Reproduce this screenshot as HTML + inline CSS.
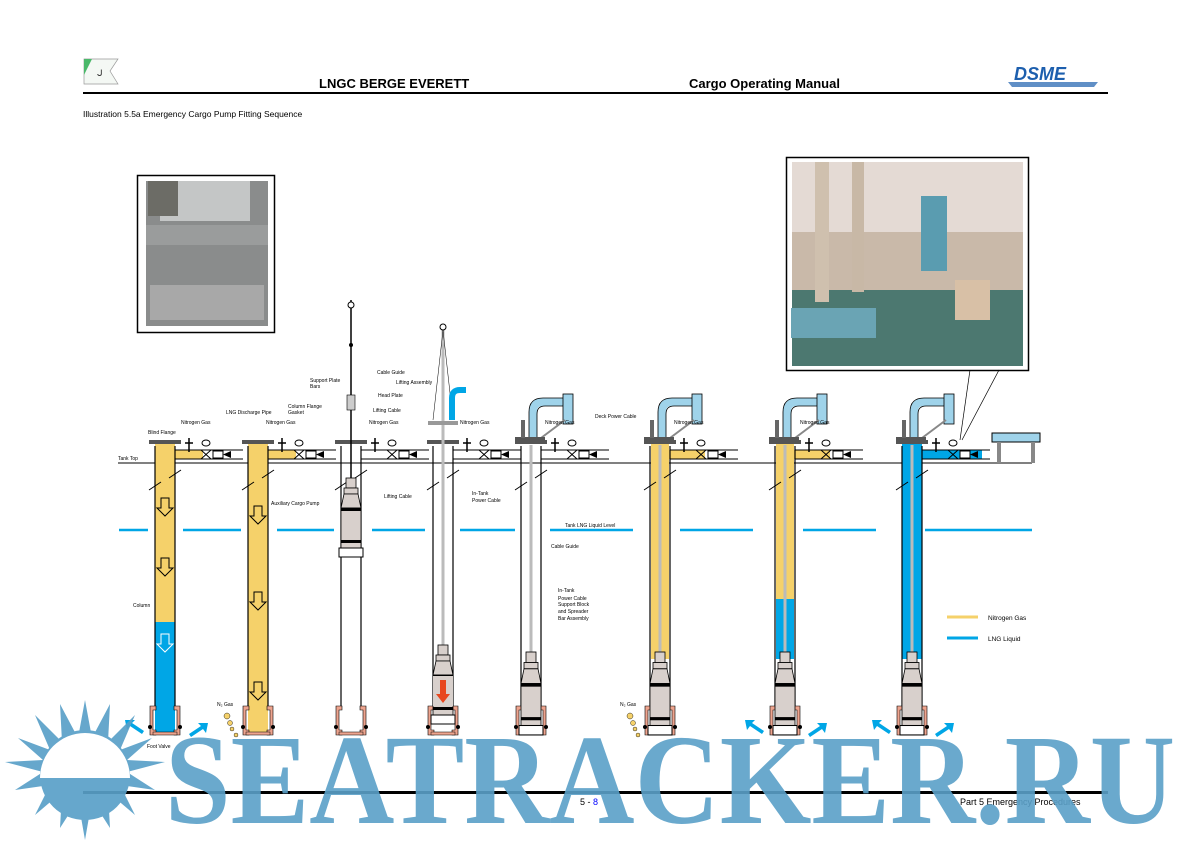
<!DOCTYPE html>
<html><head><meta charset="utf-8"><style>
html,body{margin:0;padding:0;background:#fff;}
svg{display:block;font-family:"Liberation Sans",sans-serif;}
.s{font-size:5px;fill:#000;}
</style></head><body>
<svg width="1191" height="866" viewBox="0 0 1191 866" xmlns="http://www.w3.org/2000/svg">
<defs>
<g id="base">
  <line x1="-10" y1="446" x2="-10" y2="708" stroke="#000" stroke-width="1.2"/>
  <line x1="10" y1="446" x2="10" y2="708" stroke="#000" stroke-width="1.2"/>
  <rect x="-16" y="440" width="32" height="4" fill="#555"/>
  <line x1="10" y1="450" x2="78" y2="450" stroke="#000"/>
  <line x1="10" y1="459" x2="78" y2="459" stroke="#000"/>
  <line x1="24" y1="438" x2="24" y2="452" stroke="#000" stroke-width="1.5"/>
  <line x1="20" y1="443" x2="28" y2="443" stroke="#000" stroke-width="1.5"/>
  <path d="M36 450 L46 459 M46 450 L36 459" stroke="#000"/>
  <ellipse cx="41" cy="443" rx="4" ry="3" fill="#fff" stroke="#000"/>
  <rect x="48" y="451" width="10" height="7" fill="#fff" stroke="#000"/>
  <path d="M58 454.5 L66 451 L66 458 Z" fill="#000"/>
  <path d="M-16 490 L-4 482 M4 478 L16 470" stroke="#000"/>
  <path d="M-15 706 h6 v4 h-3 v20 h3 v5 h-6 z M15 706 h-6 v4 h3 v20 h-3 v5 h6 z" fill="#eea48e" stroke="#000" stroke-width="0.6"/>
  <rect x="-12" y="732" width="24" height="3" fill="#eea48e" stroke="#000" stroke-width="0.5"/>
  <circle cx="-15" cy="727" r="2" fill="#000"/><circle cx="15" cy="727" r="2" fill="#000"/>
</g>
<g id="pump">
  <rect x="-5" y="0" width="10" height="10" fill="#d8d0cc" stroke="#000" stroke-width="0.8"/>
  <rect x="-7" y="10" width="14" height="6" fill="#d8d0cc" stroke="#000" stroke-width="0.8"/>
  <path d="M-7 16 L-10 30 L10 30 L7 16 Z" fill="#d8d0cc" stroke="#000" stroke-width="0.8"/>
  <rect x="-10" y="30" width="20" height="40" fill="#d8d0cc" stroke="#000" stroke-width="0.8"/>
  <rect x="-10" y="30" width="20" height="3" fill="#000"/>
  <rect x="-10" y="62" width="20" height="3" fill="#000"/>
  <rect x="-12" y="70" width="24" height="9" fill="#fff" stroke="#000"/>
</g>
<g id="head">
  <path d="M-4 0 V-28 Q-4 -38 6 -38 H26" fill="none" stroke="#9fd3ea" stroke-width="8"/>
  <path d="M-8 0 V-28 Q-8 -42 6 -42 H26 M0 0 V-26 Q0 -34 8 -34 H26" fill="none" stroke="#000" stroke-width="0.8"/>
  <rect x="26" y="-46" width="10" height="30" fill="#9fd3ea" stroke="#000" stroke-width="0.8"/>
  <path d="M4 -2 L28 -20" stroke="#888" stroke-width="2"/>
  <rect x="-22" y="-3" width="30" height="4" fill="#555"/>
  <rect x="-16" y="-20" width="4" height="18" fill="#666"/>
</g>
</defs>

<!-- header -->
<path d="M84 59 L84 84 L118 84 L110 71 L118 59 Z" fill="#f4f8f4" stroke="#999" stroke-width="0.7"/>
<path d="M84 59 L92 59 L84 75 Z" fill="#4bb86a"/>
<text x="97" y="76" font-size="9" fill="#333">ᒍ</text>
<text x="319" y="88" font-size="13" font-weight="bold">LNGC BERGE EVERETT</text>
<text x="689" y="88" font-size="13" font-weight="bold">Cargo Operating Manual</text>
<text x="1014" y="80" font-size="18" font-weight="bold" font-style="italic" fill="#1d5fae">DSME</text>
<path d="M1008 82 L1098 82 L1094 87 L1012 87 Z" fill="#1d5fae" opacity="0.7"/>
<rect x="83" y="92" width="1025" height="2" fill="#000"/>
<text x="83" y="117" font-size="8.5">Illustration 5.5a Emergency Cargo Pump Fitting Sequence</text>

<!-- left photo -->
<rect x="137.5" y="175.5" width="137" height="157" fill="#fff" stroke="#000" stroke-width="1.5"/>
<rect x="146" y="181" width="122" height="145" fill="#8a8c8c"/>
<rect x="160" y="181" width="90" height="40" fill="#c4c6c6"/>
<rect x="146" y="225" width="122" height="20" fill="#9a9c9c"/>
<rect x="150" y="285" width="114" height="35" fill="#a8a8a8"/>
<rect x="148" y="181" width="30" height="35" fill="#6c6c66"/>

<!-- right photo -->
<rect x="786.5" y="157.5" width="242" height="213" fill="#fff" stroke="#000" stroke-width="1.5"/>
<rect x="792" y="162" width="231" height="204" fill="#c9b9a9"/>
<rect x="792" y="162" width="231" height="70" fill="#e4dad4"/>
<rect x="792" y="290" width="231" height="76" fill="#4c7870"/>
<rect x="815" y="162" width="14" height="140" fill="#cfc0ae"/>
<rect x="852" y="162" width="12" height="130" fill="#c8b8a6"/>
<rect x="921" y="196" width="26" height="75" fill="#5a9cb0"/>
<rect x="791" y="308" width="85" height="30" fill="#6aa4b4"/>
<rect x="955" y="280" width="35" height="40" fill="#d8c0a6"/>
<line x1="970" y1="370" x2="960" y2="440" stroke="#000" stroke-width="0.7"/>
<line x1="999" y1="370" x2="962" y2="440" stroke="#000" stroke-width="0.7"/>

<!-- tank top and liquid level -->
<line x1="118" y1="463" x2="1032" y2="463" stroke="#000"/>
<text x="118" y="460" class="s">Tank Top</text>
<g stroke="#00a6e6" stroke-width="2.5">
<line x1="119" y1="530" x2="148" y2="530"/><line x1="183" y1="530" x2="241" y2="530"/>
<line x1="277" y1="530" x2="334" y2="530"/><line x1="372" y1="530" x2="425" y2="530"/>
<line x1="460" y1="530" x2="515" y2="530"/><line x1="550" y1="530" x2="633" y2="530"/>
<line x1="680" y1="530" x2="753" y2="530"/><line x1="803" y1="530" x2="876" y2="530"/>
<line x1="925" y1="530" x2="1032" y2="530"/>
</g>
<text x="565" y="527" class="s">Tank LNG Liquid Level</text>

<!-- fills -->
<rect x="155" y="444" width="20" height="178" fill="#f5d16a"/>
<rect x="175" y="450" width="28" height="9" fill="#f5d16a"/>
<rect x="155" y="622" width="20" height="112" fill="#00a6e6"/>
<rect x="248" y="444" width="20" height="290" fill="#f5d16a"/>
<rect x="268" y="450" width="28" height="9" fill="#f5d16a"/>
<rect x="651" y="444" width="18" height="215" fill="#f5d16a"/>
<rect x="669" y="450" width="36" height="9" fill="#f5d16a"/>
<rect x="776" y="444" width="18" height="155" fill="#f5d16a"/>
<rect x="776" y="599" width="18" height="60" fill="#00a6e6"/>
<rect x="794" y="450" width="36" height="9" fill="#f5d16a"/>
<rect x="902" y="444" width="20" height="215" fill="#00a6e6"/>
<rect x="922" y="450" width="60" height="9" fill="#00a6e6"/>

<use href="#base" transform="translate(165,0)"/>
<use href="#base" transform="translate(258,0)"/>
<use href="#base" transform="translate(351,0)"/>
<use href="#base" transform="translate(443,0)"/>
<use href="#base" transform="translate(531,0)"/>
<use href="#base" transform="translate(660,0)"/>
<use href="#base" transform="translate(785,0)"/>
<use href="#base" transform="translate(912,0)"/>

<!-- down arrows -->
<g fill="none" stroke="#000" stroke-width="1">
<path d="M161 498 h8 v10 h4 l-8 8 l-8 -8 h4 z"/><path d="M161 558 h8 v10 h4 l-8 8 l-8 -8 h4 z"/>
<path d="M254 506 h8 v10 h4 l-8 8 l-8 -8 h4 z"/><path d="M254 592 h8 v10 h4 l-8 8 l-8 -8 h4 z"/>
<path d="M254 682 h8 v10 h4 l-8 8 l-8 -8 h4 z"/>
</g>
<path d="M161 634 h8 v10 h4 l-8 8 l-8 -8 h4 z" fill="none" stroke="#fff"/>

<!-- col3 auxiliary pump -->
<line x1="351" y1="300" x2="351" y2="478" stroke="#000" stroke-width="1.5"/>
<rect x="347" y="395" width="8" height="15" fill="#ccc" stroke="#000" stroke-width="0.6"/>
<circle cx="351" cy="305" r="3" fill="#fff" stroke="#000"/>
<circle cx="351" cy="345" r="2" fill="#000"/>
<use href="#pump" transform="translate(351,478)"/>
<text x="271" y="505" class="s">Auxiliary Cargo Pump</text>
<text x="310" y="382" class="s">Support Plate</text><text x="310" y="388" class="s">Bars</text>
<text x="377" y="374" class="s">Cable Guide</text>
<text x="288" y="408" class="s">Column Flange</text><text x="288" y="414" class="s">Gasket</text>
<text x="373" y="412" class="s">Lifting Cable</text>
<text x="148" y="434" class="s">Blind Flange</text>
<text x="181" y="424" class="s">Nitrogen Gas</text>
<text x="226" y="414" class="s">LNG Discharge Pipe</text>
<text x="266" y="424" class="s">Nitrogen Gas</text>
<text x="369" y="424" class="s">Nitrogen Gas</text>
<text x="460" y="424" class="s">Nitrogen Gas</text>

<!-- col4 -->
<line x1="443" y1="325" x2="443" y2="645" stroke="#bbb" stroke-width="3"/>
<circle cx="443" cy="327" r="3" fill="#fff" stroke="#000"/>
<line x1="443" y1="330" x2="433" y2="420" stroke="#000" stroke-width="0.5"/>
<line x1="443" y1="330" x2="453" y2="420" stroke="#000" stroke-width="0.5"/>
<rect x="428" y="421" width="30" height="4" fill="#999"/>
<path d="M452 420 V398 Q452 390 460 390 H466" fill="none" stroke="#00a6e6" stroke-width="6"/>
<use href="#pump" transform="translate(443,645)"/>
<rect x="433" y="676" width="20" height="30" fill="#d8d0cc"/>
<path d="M440 680 h6 v14 h4 l-7 9 l-7 -9 h4 z" fill="#e8471e"/>
<text x="396" y="384" class="s">Lifting Assembly</text>
<text x="378" y="397" class="s">Head Plate</text>
<text x="384" y="498" class="s">Lifting Cable</text>
<text x="472" y="495" class="s">In-Tank</text><text x="472" y="502" class="s">Power Cable</text>

<!-- cols 5-8 heads & pumps -->
<use href="#head" transform="translate(537,440)"/>
<use href="#head" transform="translate(666,440)"/>
<use href="#head" transform="translate(791,440)"/>
<use href="#head" transform="translate(918,440)"/>
<g stroke="#bbb" stroke-width="3">
<line x1="531" y1="445" x2="531" y2="655"/><line x1="660" y1="445" x2="660" y2="655"/>
<line x1="785" y1="445" x2="785" y2="655"/><line x1="912" y1="445" x2="912" y2="655"/>
</g>
<g transform="translate(0,0) scale(1,1)">
<use href="#pump" transform="translate(531,652) scale(1,1.05)"/>
<use href="#pump" transform="translate(660,652) scale(1,1.05)"/>
<use href="#pump" transform="translate(785,652) scale(1,1.05)"/>
<use href="#pump" transform="translate(912,652) scale(1,1.05)"/>
</g>
<text x="595" y="418" class="s">Deck Power Cable</text>
<text x="545" y="424" class="s">Nitrogen Gas</text>
<text x="674" y="424" class="s">Nitrogen Gas</text>
<text x="800" y="424" class="s">Nitrogen Gas</text>
<text x="551" y="548" class="s">Cable Guide</text>
<text x="558" y="592" class="s">In-Tank</text><text x="558" y="600" class="s">Power Cable</text>
<text x="558" y="606" class="s">Support Block</text><text x="558" y="613" class="s">and Spreader</text>
<text x="558" y="620" class="s">Bar Assembly</text>
<text x="133" y="607" class="s">Column</text>
<text x="147" y="748" class="s">Foot Valve</text>
<text x="217" y="706" class="s">N₂ Gas</text>
<text x="620" y="706" class="s">N₂ Gas</text>

<!-- junction box col8 -->
<rect x="992" y="433" width="48" height="9" fill="#9fd3ea" stroke="#000"/>
<rect x="997" y="442" width="4" height="21" fill="#888"/>
<rect x="1031" y="442" width="4" height="21" fill="#888"/>

<!-- legend -->
<line x1="947" y1="617" x2="978" y2="617" stroke="#f5d16a" stroke-width="3"/>
<text x="988" y="620" font-size="6.5">Nitrogen Gas</text>
<line x1="947" y1="638" x2="978" y2="638" stroke="#00a6e6" stroke-width="3"/>
<text x="988" y="641" font-size="6.5">LNG Liquid</text>

<!-- N2 bubbles -->
<g fill="#f5d16a" stroke="#000" stroke-width="0.4">
<circle cx="227" cy="716" r="3"/><circle cx="230" cy="723" r="2.5"/><circle cx="232" cy="729" r="2"/><circle cx="236" cy="735" r="2"/>
<circle cx="630" cy="716" r="3"/><circle cx="633" cy="723" r="2.5"/><circle cx="635" cy="729" r="2"/><circle cx="638" cy="735" r="2"/>
</g>

<!-- blue arrows -->
<g fill="#00a6e6">
<path d="M142 734 l-12 -8 l-3 4 l-2 -10 l10 0 l-3 3 l12 8 z"/>
<path d="M189 734 l12 -8 l-3 -3 l10 0 l-2 10 l-3 -4 l-12 8 z"/>
<path d="M762 734 l-12 -8 l-3 4 l-2 -10 l10 0 l-3 3 l12 8 z"/>
<path d="M808 734 l12 -8 l-3 -3 l10 0 l-2 10 l-3 -4 l-12 8 z"/>
<path d="M889 734 l-12 -8 l-3 4 l-2 -10 l10 0 l-3 3 l12 8 z"/>
<path d="M935 734 l12 -8 l-3 -3 l10 0 l-2 10 l-3 -4 l-12 8 z"/>
</g>

<!-- footer -->
<rect x="83" y="791" width="1025" height="3" fill="#000"/>
<text x="580" y="805" font-size="9" fill="#000">5 - <tspan fill="#00f">8</tspan></text>
<text x="960" y="805" font-size="9">Part 5 Emergency Procedures</text>

<!-- watermark -->
<g fill="#5aa0c8" opacity="0.92">
<polygon points="85,700 92,738 110,704 108,742 135,715 120,750 152,738 127,760 165,762 127,772 155,790 120,785 135,815 108,792 110,828 92,800 85,840 78,800 60,828 62,792 35,815 50,785 15,790 43,772 5,762 43,760 18,738 50,750 35,715 62,742 60,704 78,738"/>
<circle cx="85" cy="775" r="45"/>
</g>
<path d="M40 778 A45 45 0 0 1 130 778 Z" fill="#fff"/>
<text x="165" y="823" font-family="Liberation Serif,serif" font-weight="bold" font-size="128" fill="#5aa0c8" opacity="0.9" textLength="1010" lengthAdjust="spacingAndGlyphs">SEATRACKER.RU</text>
</svg>
</body></html>
